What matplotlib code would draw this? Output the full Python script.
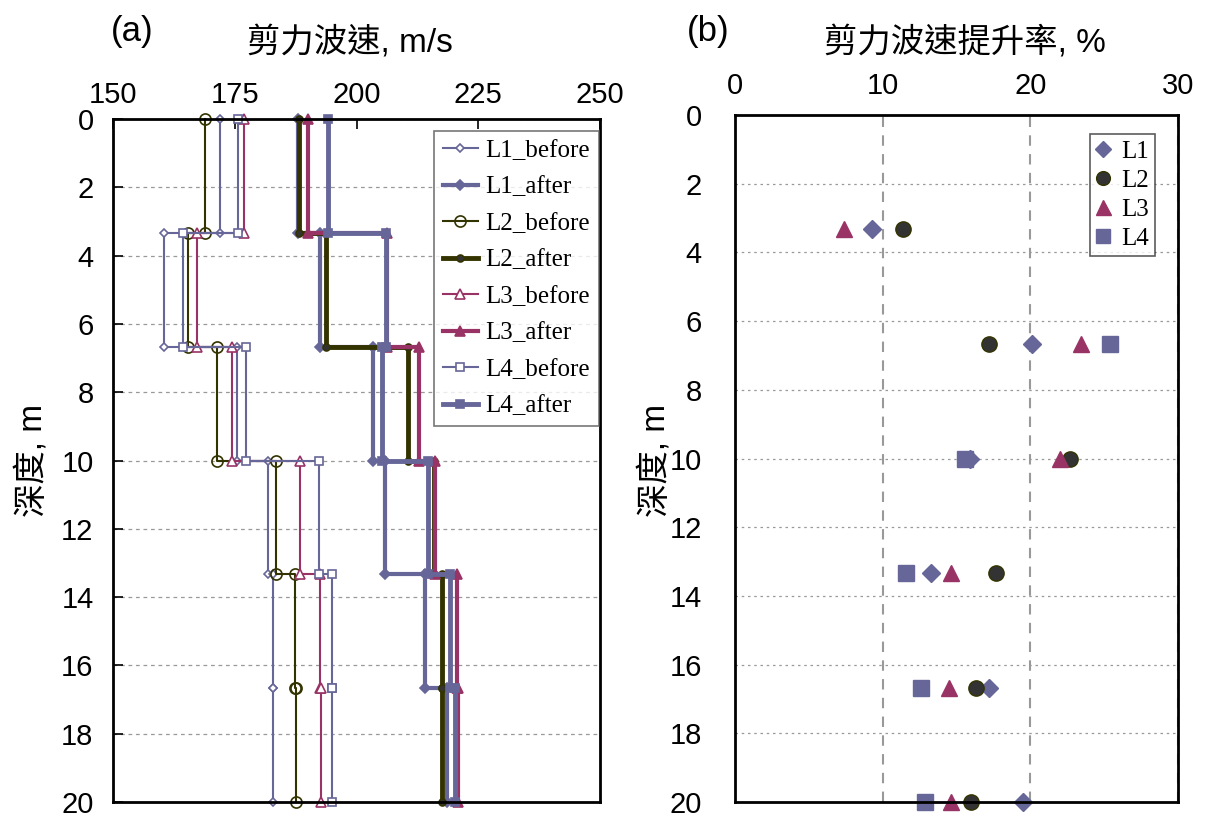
import numpy as np
import matplotlib
matplotlib.use('Agg')
import matplotlib.pyplot as plt

# 층 경계 깊이 (m)
bounds = [0, 3.33, 6.67, 10, 13.33, 16.67, 20]

# 각 층 전단파속도 (m/s)
L1_before = [172.0, 160.5, 175.5, 181.8, 182.8, 182.9]
L1_after = [188.0, 192.6, 203.3, 205.9, 214.1, 218.5]
L2_before = [168.9, 165.3, 171.4, 183.5, 187.3, 187.5]
L2_after = [188.2, 193.7, 210.6, 216.0, 217.6, 217.6]
L3_before = [176.9, 167.2, 174.4, 188.4, 192.5, 192.7]
L3_after = [190.1, 206.3, 212.8, 216.2, 220.6, 220.9]
L4_before = [175.7, 164.3, 177.4, 192.4, 194.9, 194.9]
L4_after = [194.2, 206.1, 205.2, 214.7, 219.1, 220.2]

# 제고율 (%)
rate_depth = [3.33, 6.67, 10, 13.33, 16.67, 20]
rate_L1 = [9.3, 20.1, 15.9, 13.3, 17.2, 19.5]
rate_L2 = [11.4, 17.2, 22.7, 17.7, 16.3, 16.0]
rate_L3 = [7.4, 23.4, 22.0, 14.6, 14.5, 14.6]
rate_L4 = [np.nan, 25.4, 15.6, 11.6, 12.6, 12.9]

c_blue = '#666699'
c_olive = '#333300'
c_mag = '#993366'

FONT = ['Liberation Sans', 'Noto Sans CJK TC']
SERIF = 'Liberation Serif'

fig = plt.figure(figsize=(12.05, 8.18), dpi=100)
ax1 = fig.add_axes([113/1205, 1-802/818, 487/1205, (802-119)/818])
ax2 = fig.add_axes([735/1205, 1-802/818, (1178-735)/1205, (802-115)/818])

step_y = np.repeat(bounds, 2)[1:-1]

styles = [
    ('L1_before', L1_before, c_blue, 1.5, 'D', 4, 'white'),
    ('L1_after', L1_after, c_blue, 3.0, 'D', 5, c_blue),
    ('L2_before', L2_before, c_olive, 1.5, 'o', 8, 'none'),
    ('L2_after', L2_after, c_olive, 3.5, 'o', 5, '#333333'),
    ('L3_before', L3_before, c_mag, 1.5, '^', 7, 'white'),
    ('L3_after', L3_after, c_mag, 3.0, '^', 7, c_mag),
    ('L4_before', L4_before, c_blue, 1.5, 's', 6, 'white'),
    ('L4_after', L4_after, c_blue, 3.5, 's', 6, c_blue),
]
for name, vals, col, lw, mk, ms, mfc in styles:
    ax1.plot(np.repeat(vals, 2), step_y, color=col, lw=lw, marker=mk, ms=ms,
             mfc=mfc, mec=col, mew=1.2, label=name, clip_on=False)

ax1.set_xlim(150, 250)
ax1.set_ylim(20, 0)
ax1.set_xticks([150, 175, 200, 225, 250])
ax1.set_yticks(range(0, 21, 2))
ax1.xaxis.tick_top()
ax1.yaxis.grid(True, ls=(0, (3, 3)), color='#999999', lw=0.9)
ax1.tick_params(axis='both', direction='in', length=7, width=1.2, labelsize=21)
ax1.tick_params(axis='x', pad=7, top=True, bottom=False)
ax1.tick_params(axis='y', pad=14, right=False)
for lab in ax1.get_xticklabels() + ax1.get_yticklabels():
    lab.set_family(FONT)
for s in ax1.spines.values():
    s.set_linewidth(2)

leg1 = ax1.legend(loc='upper right', bbox_to_anchor=(0.997, 0.983), borderaxespad=0,
                  prop={'family': SERIF, 'size': 18}, frameon=True, fancybox=False,
                  edgecolor='#555555', handlelength=1.4, labelspacing=0.56,
                  handletextpad=0.3, borderpad=0.35)
leg1.get_frame().set_linewidth(1.2)

# 오른쪽 그림
ax2.plot(rate_L1, rate_depth, ls='none', marker='D', ms=9, color=c_blue, label='L1', clip_on=False)
ax2.plot(rate_L2, rate_depth, ls='none', marker='o', ms=11, color='#333333', mec=c_olive, label='L2', clip_on=False)
ax2.plot(rate_L3, rate_depth, ls='none', marker='^', ms=12, color=c_mag, label='L3', clip_on=False)
ax2.plot(rate_L4, rate_depth, ls='none', marker='s', ms=11, color=c_blue, label='L4', clip_on=False)

ax2.set_xlim(0, 30)
ax2.set_ylim(20, 0)
ax2.set_xticks([0, 10, 20, 30])
ax2.set_yticks(range(0, 21, 2))
ax2.xaxis.tick_top()
ax2.yaxis.grid(True, ls=(0, (2, 3)), color='#999999', lw=0.9)
ax2.xaxis.grid(True, ls=(0, (5, 4)), color='#999999', lw=1.5)
ax2.tick_params(axis='both', direction='in', length=0, labelsize=21)
ax2.tick_params(axis='x', pad=11)
ax2.tick_params(axis='y', pad=24)
for lab in ax2.get_xticklabels() + ax2.get_yticklabels():
    lab.set_family(FONT)
for s in ax2.spines.values():
    s.set_linewidth(2)
ax2.set_axisbelow(True)

leg2 = ax2.legend(loc='upper right', bbox_to_anchor=(0.948, 0.972), borderaxespad=0,
                  prop={'family': SERIF, 'size': 18}, frameon=True, fancybox=False,
                  edgecolor='#333333', handlelength=0.6, labelspacing=0.26,
                  handletextpad=0.4, borderpad=0.25, markerscale=0.9)
leg2.get_frame().set_linewidth(1.2)

fig.text(350/1205, 1-42/818, '剪力波速, m/s', family=FONT, size=24, ha='center', va='center')
fig.text(965/1205, 1-42/818, '剪力波速提升率, %', family=FONT, size=24, ha='center', va='center')
fig.text(132/1205, 1-32/818, '(a)', family=FONT, size=25, ha='center', va='center')
fig.text(708/1205, 1-32/818, '(b)', family=FONT, size=25, ha='center', va='center')
fig.text(32/1205, 1-460/818, '深度, m', family=FONT, size=24, ha='center', va='center', rotation=90)
fig.text(655/1205, 1-460/818, '深度, m', family=FONT, size=24, ha='center', va='center', rotation=90)

fig.savefig('out.png', dpi=100)
